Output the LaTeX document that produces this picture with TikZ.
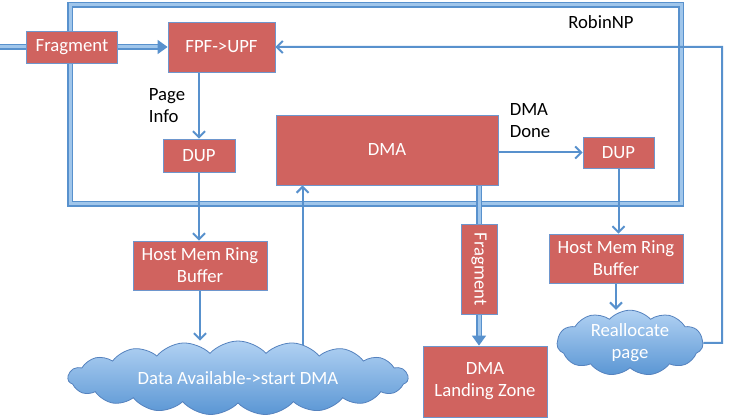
\documentclass[tikz,border=0pt]{standalone}
\usepackage{fontspec}
\setmainfont{Carlito}
\usepackage{xcolor}
\usetikzlibrary{shapes,shapes.symbols,arrows.meta,positioning,calc,backgrounds}

\definecolor{boxred}{RGB}{208,99,95}
\definecolor{boxline}{RGB}{110,150,205}
\definecolor{linecol}{RGB}{88,145,205}
\definecolor{lightcol}{RGB}{160,198,235}
\definecolor{cloudtop}{RGB}{178,210,243}
\definecolor{cloudbot}{RGB}{90,150,212}
\definecolor{cloudline}{RGB}{85,130,190}

\tikzset{
    blk/.style={draw=boxline, line width=0.8pt, fill=boxred, text=white, font=\fontsize{18.7}{22}\selectfont, align=center, inner sep=1pt},
    puff/.style={cloud, cloud ignores aspect, cloud puff arc=95, draw=cloudline, line width=0.8pt, top color=cloudtop, bottom color=cloudbot, text=white, font=\fontsize{18.7}{22}\selectfont, align=center, inner sep=0pt},
    lbl/.style={font=\fontsize{18.7}{22}\selectfont, align=left, inner sep=0pt},
    arr/.style={draw=linecol, line width=2pt, -{Straight Barb[length=6pt,width=12pt]}},
    fatline/.style={draw=linecol, line width=1.6pt, double=lightcol, double distance=3pt},
    fatarr/.style={fatline, -{Triangle[length=10pt,width=14pt]}}
}

\begin{document}
\begin{tikzpicture}[x=1pt, y=-1pt]
        \useasboundingbox (0,0) rectangle (732,419);

        % RobinNP part
        \node[blk, minimum width=91, minimum height=32] (frag) at (72,47) {Fragment};
        \node[blk, minimum width=107, minimum height=50] (fpf) at (221.5,47) {FPF->UPF};
        \node[blk, minimum width=72, minimum height=33] (dup1) at (199,155.5) {DUP};
        \node[blk, minimum width=222, minimum height=70] (dma) at (387,150) {DMA};
        \node[blk, minimum width=71, minimum height=31] (dup2) at (618.5,152.5) {DUP};
        \node[lbl] (pageinfo) at (167,106) {Page\\Info};
        \node[lbl] (dmadone) at (530,121) {DMA\\Done};
        \node[lbl] (robin) at (601,22) {RobinNP};

        % Host side
        \node[blk, minimum width=134, minimum height=49] (hm1) at (200,265.5) {Host Mem Ring\\Buffer};
        \node[blk, minimum width=134, minimum height=49] (hm2) at (616,258.5) {Host Mem Ring\\Buffer};
        \node[blk, minimum width=90, minimum height=36, rotate=-90] (fragv) at (479,269) {Fragment};
        \node[blk, minimum width=124, minimum height=71] (lz) at (485,381.5) {DMA\\Landing Zone};
        \node[puff, cloud puffs=19, minimum width=340, minimum height=74] (cloud1) at (238,378) {Data Available->start DMA};
        \node[puff, cloud puffs=11, minimum width=146, minimum height=62] (cloud2) at (630,343) {Reallocate\\page};

        \coordinate (in) at (0,47);
        \coordinate (ret) at (722,343);
        \coordinate (dmain) at ([xshift=27]dma.south west);

        \begin{scope}[on background layer]
            \draw[fatline] (70,5) rectangle (681,204);
            \draw[fatarr] (in) -- (fpf.west);
            \draw[fatarr] (dma.south -| fragv) -- (lz.north -| fragv);
            \draw[arr] (dup1.north |- fpf.south) -- (dup1.north);
            \draw[arr] (dup1) -- (dup1 |- hm1.north);
            \draw[arr] (hm1) -- (hm1 |- cloud1.north);
            \draw[arr] (dmain |- cloud1.center) -- (dmain);
            \draw[arr] (dma.east |- dup2) -- (dup2.west);
            \draw[arr] (dup2) -- (dup2 |- hm2.north);
            \draw[arr] (hm2) -- (hm2 |- cloud2.north);
            \draw[arr] (cloud2.east) -- (ret) |- (fpf.east);
        \end{scope}
    \end{tikzpicture}
\end{document}
